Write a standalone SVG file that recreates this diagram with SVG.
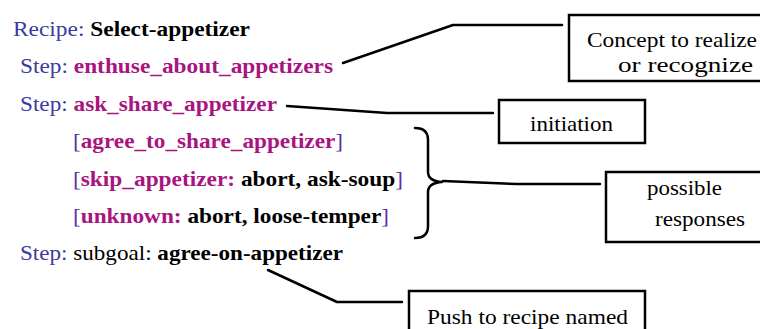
<svg xmlns="http://www.w3.org/2000/svg" width="760" height="329" viewBox="0 0 760 329">
<style>
text{font-family:"Liberation Serif","Times New Roman",serif;font-size:22px}
.b{fill:#3b3ba0}
.m{fill:#a8157f;font-weight:bold}
.k{fill:#000;font-weight:bold}
.n{fill:#000}
.br{fill:#5b2fa6}
.box{fill:#fff;stroke:#000;stroke-width:2.5}
.bt{fill:#000}
.ln{fill:none;stroke:#000;stroke-width:2.5;stroke-linejoin:round;stroke-linecap:round}
</style>
<rect width="760" height="329" fill="#fff"/>
<g id="recipe-text">
<text x="13" y="36" textLength="237" lengthAdjust="spacingAndGlyphs"><tspan class="b">Recipe: </tspan><tspan class="k">Select-appetizer</tspan></text>
<text x="20" y="73" textLength="313" lengthAdjust="spacingAndGlyphs"><tspan class="b">Step: </tspan><tspan class="m">enthuse_about_appetizers</tspan></text>
<text x="20" y="111" textLength="257" lengthAdjust="spacingAndGlyphs"><tspan class="b">Step: </tspan><tspan class="m">ask_share_appetizer</tspan></text>
<text x="73" y="148" textLength="270" lengthAdjust="spacingAndGlyphs"><tspan class="br">[</tspan><tspan class="m">agree_to_share_appetizer</tspan><tspan class="br">]</tspan></text>
<text x="73" y="186" textLength="330" lengthAdjust="spacingAndGlyphs"><tspan class="br">[</tspan><tspan class="m">skip_appetizer: </tspan><tspan class="k">abort, ask-soup</tspan><tspan class="br">]</tspan></text>
<text x="73" y="223" textLength="316" lengthAdjust="spacingAndGlyphs"><tspan class="br">[</tspan><tspan class="m">unknown: </tspan><tspan class="k">abort, loose-temper</tspan><tspan class="br">]</tspan></text>
<text x="20" y="260" textLength="323" lengthAdjust="spacingAndGlyphs"><tspan class="b">Step: </tspan><tspan class="n">subgoal: </tspan><tspan class="k">agree-on-appetizer</tspan></text>
</g>
<g id="connectors">
<path class="ln" d="M343,63 L453,25 L562,25"/>
<path class="ln" d="M287,106 L387,113 L493,113"/>
<path class="ln" d="M443,181 L517,184 L600,184"/>
<path class="ln" d="M268,270 L337,302 L402,302"/>
<path class="ln" stroke-width="3" d="M415,128 Q428,128 428,140 L428,172 Q428,181 442,182 Q428,183 428,192 L428,226 Q428,238 415,238"/>
</g>
<g id="concept">
<rect class="box" x="569" y="15" width="200" height="66"/>
<text class="bt" x="587" y="47" textLength="170" lengthAdjust="spacingAndGlyphs">Concept to realize</text>
<text class="bt" x="618" y="72" textLength="135" lengthAdjust="spacingAndGlyphs">or recognize</text>
</g>
<g id="initiation">
<rect class="box" x="499" y="100" width="146" height="43"/>
<text class="bt" x="530" y="131" textLength="83" lengthAdjust="spacingAndGlyphs">initiation</text>
</g>
<g id="possible-responses">
<rect class="box" x="606" y="172" width="163" height="70"/>
<text class="bt" x="647" y="195" textLength="75" lengthAdjust="spacingAndGlyphs">possible</text>
<text class="bt" x="655" y="226" textLength="90" lengthAdjust="spacingAndGlyphs">responses</text>
</g>
<g id="push">
<rect class="box" x="409" y="291" width="236" height="50"/>
<text class="bt" x="427" y="324" textLength="201" lengthAdjust="spacingAndGlyphs">Push to recipe named</text>
</g>
</svg>
